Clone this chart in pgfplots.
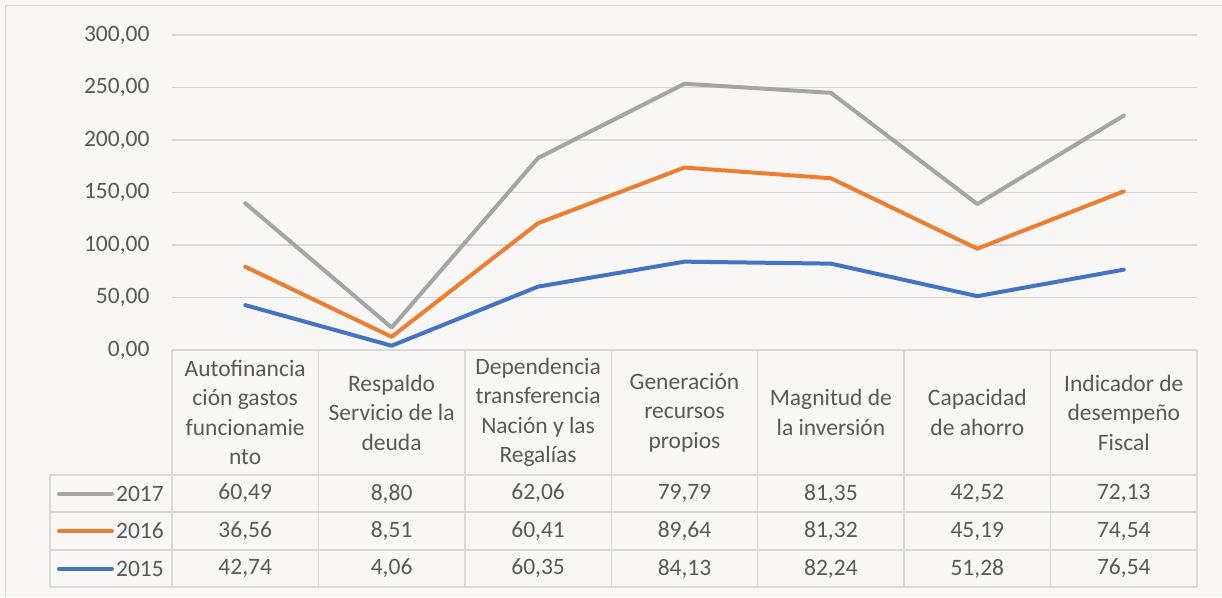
\documentclass[border=0pt]{standalone}
\usepackage{pgfplots}
\pgfplotsset{compat=1.18}
\usepackage{pgfplotstable}
\usepackage{fontspec}
\setmainfont{Carlito}
\definecolor{bg}{HTML}{F8F7F5}
\definecolor{gridc}{HTML}{D9D9D9}
\definecolor{txt}{HTML}{595959}
\definecolor{c15}{HTML}{4472C4}
\definecolor{c16}{HTML}{ED7D31}
\definecolor{c17}{HTML}{A5A5A5}
\pgfplotstableread{
x y2015 y2016 y2017
1 42.74 36.56 60.49
2 4.06 8.51 8.80
3 60.35 60.41 62.06
4 84.13 89.64 79.79
5 82.24 81.32 81.35
6 51.28 45.19 42.52
7 76.54 74.54 72.13
}\datatab
\newcommand{\fs}{\fontsize{23.5}{29.5}\selectfont}
\begin{document}
\begin{tikzpicture}[x=1pt,y=1pt]
\useasboundingbox (0,0) rectangle (1222,597);
\fill[bg] (0,0) rectangle (1222,597);
\draw[gridc, line width=1.5] (5.5,0) -- (5.5,591.5) -- (1222,591.5);
\begin{axis}[
  at={(172pt,247pt)}, anchor=south west,
  scale only axis, width=1025pt, height=315pt,
  xmin=0.5, xmax=7.5, ymin=0, ymax=300,
  ytick={0,50,...,300}, xtick=\empty,
  stack plots=y,
  axis line style={draw=none},
  major tick style={draw=none},
  ymajorgrids, grid style={gridc, line width=1.5},
  yticklabel style={font=\fs, text=txt},
  yticklabel={\pgfmathprintnumber[fixed,zerofill,precision=2,use comma]{\tick}},
  /pgf/number format/assume math mode=true,
  ytick pos=left, yticklabel shift=19pt,
  clip=false,
]
\addplot[c15, line width=4, line join=round, line cap=round, no markers] table[x=x,y=y2015]{\datatab};
\addplot[c16, line width=4, line join=round, line cap=round, no markers] table[x=x,y=y2016]{\datatab};
\addplot[c17, line width=4, line join=round, line cap=round, no markers] table[x=x,y=y2017]{\datatab};
\end{axis}
% table lines
\begin{scope}[gridc, line width=1.5]
\foreach \xx in {172,318.4,464.9,611.3,757.7,904.1,1050.6,1197} {\draw (\xx,247) -- (\xx,10);}
\foreach \yy in {122,85,47,10} {\draw (50,\yy) -- (1197,\yy);}
\draw (50,122) -- (50,10);
\end{scope}
% header
\begin{scope}[every node/.style={font=\fs, text=txt, align=center, inner sep=0pt}]
\node at (245.2,184.5) {Autofinancia\\ción gastos\\funcionamie\\nto};
\node at (391.6,184.5) {Respaldo\\Servicio de la\\deuda};
\node at (538.1,184.5) {Dependencia\\transferencia\\Nación y las\\Regalías};
\node at (684.5,184.5) {Generación\\recursos\\propios};
\node at (830.9,184.5) {Magnitud de\\la inversión};
\node at (977.3,184.5) {Capacidad\\de ahorro};
\node at (1123.8,184.5) {Indicador de\\desempeño\\Fiscal};
% legend
\draw[c17, line width=4, line cap=round] (59,103.5) -- (112,103.5);
\draw[c16, line width=4, line cap=round] (59,66) -- (112,66);
\draw[c15, line width=4, line cap=round] (59,28.5) -- (112,28.5);
\node[anchor=east] at (164,103.5) {2017};
\node[anchor=east] at (164,66) {2016};
\node[anchor=east] at (164,28.5) {2015};
% values
\node at (245.2,103.5) {60,49};
\node at (391.6,103.5) {8,80};
\node at (538.1,103.5) {62,06};
\node at (684.5,103.5) {79,79};
\node at (830.9,103.5) {81,35};
\node at (977.3,103.5) {42,52};
\node at (1123.8,103.5) {72,13};
\node at (245.2,66) {36,56};
\node at (391.6,66) {8,51};
\node at (538.1,66) {60,41};
\node at (684.5,66) {89,64};
\node at (830.9,66) {81,32};
\node at (977.3,66) {45,19};
\node at (1123.8,66) {74,54};
\node at (245.2,28.5) {42,74};
\node at (391.6,28.5) {4,06};
\node at (538.1,28.5) {60,35};
\node at (684.5,28.5) {84,13};
\node at (830.9,28.5) {82,24};
\node at (977.3,28.5) {51,28};
\node at (1123.8,28.5) {76,54};
\end{scope}
\end{tikzpicture}
\end{document}
